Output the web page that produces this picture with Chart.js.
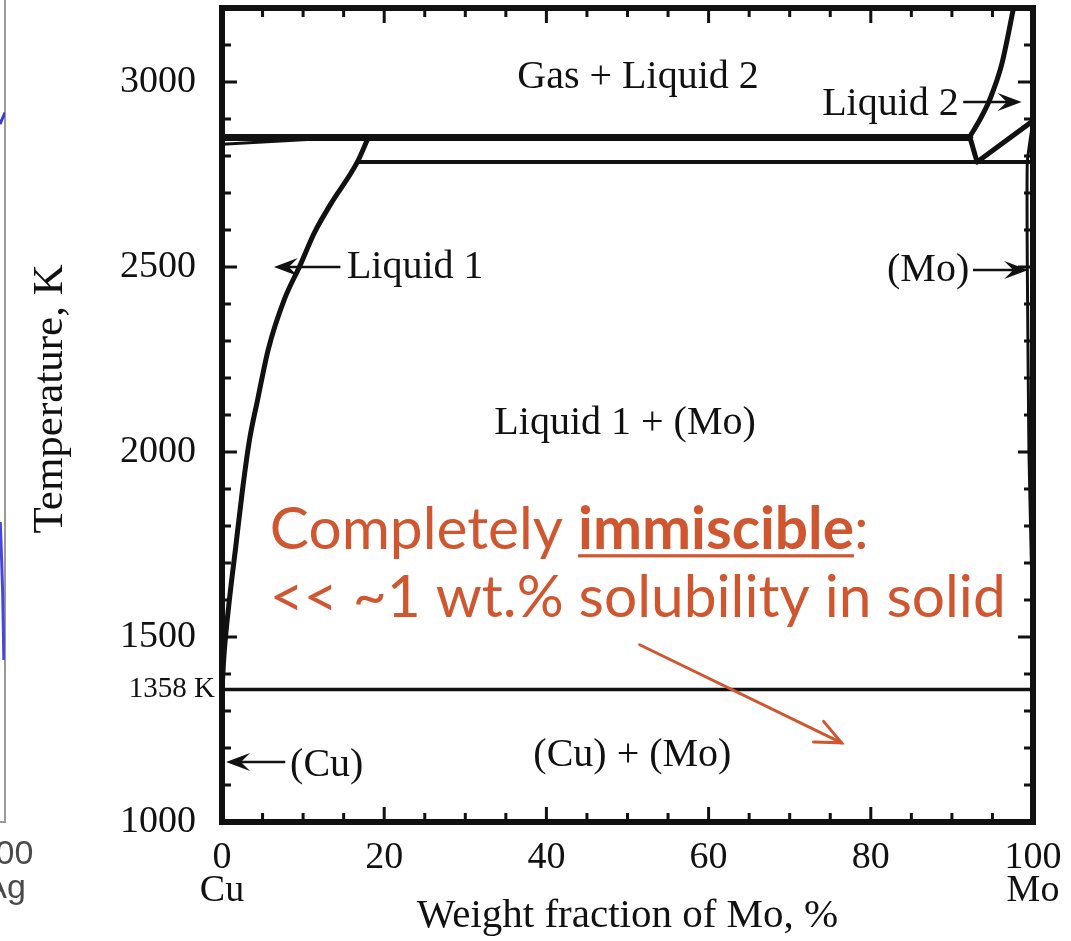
<!DOCTYPE html>
<html><head><meta charset="utf-8">
<script src="https://cdn.jsdelivr.net/npm/chart.js@4.4.0/dist/chart.umd.min.js"></script>
<style>
html,body{margin:0;padding:0;background:#fff;overflow:hidden;}
#wrap{position:relative;width:1071px;height:941px;overflow:hidden;background:#fff;}
#side{position:absolute;left:-290px;top:0;}
#main{position:absolute;left:0;top:0;}
</style></head><body>
<div id="wrap"><canvas id="side" width="340" height="941"></canvas><canvas id="main" width="1071" height="941"></canvas></div>
<script>
// ---------- DATA ----------
const xTickValues = [0, 20, 40, 60, 80, 100];
const xEndNames   = ['Cu', '', '', '', '', 'Mo'];
const yTickValues = [1000, 1358, 1500, 2000, 2500, 3000];
const xMinorMarks = [0,5,10,15,20,25,30,35,40,45,50,55,60,65,70,75,80,85,90,95,100];
const yMinorMarks = [1000,1100,1200,1300,1400,1500,1600,1700,1800,1900,2000,2100,2200,2300,2400,2500,2600,2700,2800,2900,3000,3100,3200];

// Liquid 1 boundary (Cu-rich liquid)
const liquid1X = [0, 0.25, 0.9, 1.7, 2.5, 3.4, 4.4, 5.7, 7.7, 9.6, 11.4, 13.4, 16.7, 18.0];
const liquid1T = [1358, 1452, 1598, 1745, 1893, 2034, 2142, 2277, 2413, 2503, 2593, 2670, 2784, 2848];
// Gas / Liquid 2 boundary
const liquid2X = [97.6, 96.1, 94.7, 93.5, 92.2];
const liquid2T = [3200, 3044, 2954, 2900, 2852];
// Liquid 2 lower edge to monotectic
const liq2LowX = [92.2, 93.1];
const liq2LowT = [2852, 2784];
// Mo liquidus above monotectic
const moLiqX = [93.1, 100];
const moLiqT = [2784, 2895];
// (Mo) solvus
const moSolX = [100, 99.3, 99.3, 99.5, 99.8, 100];
const moSolT = [2895, 2784, 2500, 2000, 1700, 1450];
// Invariant lines
const gasLineX = [0, 92.2];      const gasLineT = [2850, 2850];
const wedgeX   = [0, 15.0];      const wedgeT   = [2832, 2850];
const monoX    = [16.7, 100];    const monoT    = [2784, 2784];
const eutX     = [0, 100];       const eutT     = [1358, 1358];

// Neighbouring (cut-off) chart on the left edge
const sideTopX = [98.3, 100];    const sideTopY = [84.9, 86.3];
const sideLowX = [98.4, 99.2, 99.6]; const sideLowY = [36.5, 28.0, 19.7];

// ---------- annotations (data coordinates) ----------
const SERIF = "'Liberation Serif','Times New Roman',serif";
const SANS  = "Lato,'Open Sans',sans-serif";
const ORANGE = '#D0562F';
const INK = '#111';

const phaseLabels = [
  {text:'Gas + Liquid 2',   x:51.3, t:3012, align:'center'},
  {text:'Liquid 2',         x:74.0, t:2940, align:'left'},
  {text:'Liquid 1',         x:15.4, t:2500, align:'left'},
  {text:'(Mo)',             x:82.0, t:2490, align:'left'},
  {text:'Liquid 1 + (Mo)',  x:49.7, t:2076, align:'center'},
  {text:'(Cu) + (Mo)',      x:50.6, t:1181, align:'center'},
  {text:'(Cu)',             x:8.4,  t:1154, align:'left'}
];
const blackArrows = [
  {x0:91.4, t0:2946, x1:98.6, t1:2946},
  {x0:14.6, t0:2500, x1:6.4,  t1:2500},
  {x0:92.6, t0:2492, x1:99.4, t1:2492},
  {x0:7.8,  t0:1162, x1:0.5,  t1:1162}
];
const note = {
  line1a:'Completely ', line1b:'immiscible', line1c:':',
  line2:'<< ~1 wt.% solubility in solid',
  x:5.9, t1:1738, t2:1553, xRight:96.6,
  arrow:{x0:51.5, t0:1479, x1:76.4, t1:1214}
};

function mkSet(xs, ts, w, tension, mono) {
  const d = { data: xs.map((v,i)=>({x:v, y:ts[i]})), showLine:true, borderColor:INK,
           borderWidth:w, pointRadius:0, tension: tension||0, borderCapStyle:'round', borderJoinStyle:'round', fill:false };
  if (mono) d.cubicInterpolationMode = 'monotone';
  return d;
}

function headBarbed(ctx, x0,y0,x1,y1,len,half){
  const a = Math.atan2(y1-y0, x1-x0);
  ctx.save(); ctx.translate(x1,y1); ctx.rotate(a);
  ctx.beginPath(); ctx.moveTo(0,0); ctx.lineTo(-len,-half); ctx.lineTo(-len*0.62,0); ctx.lineTo(-len,half); ctx.closePath();
  ctx.fill(); ctx.restore();
}
function headOpen(ctx, x0,y0,x1,y1,len,ang){
  const a = Math.atan2(y1-y0, x1-x0);
  ctx.beginPath();
  ctx.moveTo(x1 - len*Math.cos(a-ang), y1 - len*Math.sin(a-ang));
  ctx.lineTo(x1,y1);
  ctx.lineTo(x1 - len*Math.cos(a+ang), y1 - len*Math.sin(a+ang));
  ctx.stroke();
}

const framePlugin = {
  id:'frame',
  afterDatasetsDraw(chart){
    const {ctx, chartArea:ca, scales:{x,y}} = chart;
    ctx.save();
    ctx.strokeStyle = INK; ctx.lineWidth = 3; ctx.lineCap='butt';
    xMinorMarks.forEach(v=>{
      const p = x.getPixelForValue(v); const L = xTickValues.includes(v) ? 15 : 9;
      ctx.beginPath(); ctx.moveTo(p, ca.bottom); ctx.lineTo(p, ca.bottom-L);
      ctx.moveTo(p, ca.top); ctx.lineTo(p, ca.top+L); ctx.stroke();
    });
    yMinorMarks.forEach(v=>{
      const p = y.getPixelForValue(v); const L = (v % 500 === 0) ? 15 : 9;
      ctx.beginPath(); ctx.moveTo(ca.left, p); ctx.lineTo(ca.left+L, p);
      ctx.moveTo(ca.right, p); ctx.lineTo(ca.right-L, p); ctx.stroke();
    });
    ctx.lineWidth = 6; ctx.lineJoin='miter';
    ctx.strokeRect(ca.left, ca.top, ca.right-ca.left, ca.bottom-ca.top);
    ctx.restore();
  }
};

const annPlugin = {
  id:'ann',
  afterDraw(chart){
    const {ctx, scales:{x,y}} = chart;
    const px = v=>x.getPixelForValue(v), py = v=>y.getPixelForValue(v);
    ctx.save();
    ctx.fillStyle = INK; ctx.textBaseline = 'middle'; ctx.font = '40px ' + SERIF;
    phaseLabels.forEach(l=>{ ctx.textAlign = l.align; ctx.fillText(l.text, px(l.x), py(l.t)); });
    ctx.strokeStyle = INK; ctx.lineWidth = 2.5;
    blackArrows.forEach(a=>{
      const X0=px(a.x0),Y0=py(a.t0),X1=px(a.x1),Y1=py(a.t1);
      ctx.beginPath(); ctx.moveTo(X0,Y0); ctx.lineTo(X1 + (X0>X1?14:-14), Y1); ctx.stroke();
      headBarbed(ctx,X0,Y0,X1,Y1,24,9);
    });
    // orange note
    const targetW = px(note.xRight) - px(note.x);
    ctx.font = '100px ' + SANS;
    const size = 100 * targetW / ctx.measureText(note.line2).width;
    ctx.fillStyle = ORANGE; ctx.textAlign='left'; ctx.textBaseline='alphabetic';
    let cx = px(note.x);
    const b1 = py(note.t1), b2 = py(note.t2);
    ctx.font = size.toFixed(1)+'px ' + SANS;
    ctx.fillText(note.line1a, cx, b1); cx += ctx.measureText(note.line1a).width;
    ctx.font = 'bold ' + size.toFixed(1)+'px ' + SANS;
    ctx.fillText(note.line1b, cx, b1);
    const wb = ctx.measureText(note.line1b).width;
    ctx.fillRect(cx, b1 + size*0.09, wb, Math.max(2.5, size*0.055));
    cx += wb;
    ctx.font = size.toFixed(1)+'px ' + SANS;
    ctx.fillText(note.line1c, cx, b1);
    ctx.fillText(note.line2, px(note.x), b2);
    // orange arrow
    ctx.strokeStyle = ORANGE; ctx.lineWidth = 3; ctx.lineCap='round';
    const A = note.arrow;
    const X0=px(A.x0),Y0=py(A.t0),X1=px(A.x1),Y1=py(A.t1);
    ctx.beginPath(); ctx.moveTo(X0,Y0); ctx.lineTo(X1,Y1); ctx.stroke();
    headOpen(ctx,X0,Y0,X1,Y1,28,0.42);
    ctx.restore();
  }
};

function noPadV(s){ s.paddingTop = 0; s.paddingBottom = 0; }
function noPadH(s){ s.paddingLeft = 0; s.paddingRight = 0; }

new Chart(document.getElementById('main'), {
  type:'scatter',
  data:{ datasets:[
    mkSet(gasLineX, gasLineT, 7),
    mkSet(wedgeX, wedgeT, 3),
    mkSet(monoX, monoT, 4),
    mkSet(eutX, eutT, 3.5),
    mkSet(liquid1X, liquid1T, 5, 0.4, true),
    mkSet(liquid2X, liquid2T, 5, 0.3),
    mkSet(liq2LowX, liq2LowT, 5),
    mkSet(moLiqX, moLiqT, 5),
    mkSet(moSolX, moSolT, 3, 0.15)
  ]},
  options:{
    responsive:false, animation:false, devicePixelRatio:1,
    layout:{padding:{left:0, right:38, top:8, bottom:0}},
    plugins:{legend:{display:false}, tooltip:{enabled:false}},
    scales:{
      x:{ type:'linear', min:0, max:100, position:'bottom',
        afterBuildTicks:s=>{ s.ticks = xTickValues.map(v=>({value:v})); },
        afterFit:s=>{ s.height = 119; noPadH(s); },
        grid:{display:false, drawTicks:false}, border:{display:false},
        ticks:{ padding:19, color:INK, autoSkip:false, maxRotation:0,
          font:{family:SERIF, size:38, lineHeight:0.87},
          callback:(v)=>{ const i = xTickValues.indexOf(v); return (i>=0 && xEndNames[i]) ? [String(v), xEndNames[i]] : String(v); } },
        title:{display:true, text:'Weight fraction of Mo, %', color:INK, font:{family:SERIF, size:41}, padding:{top:0,bottom:0}}
      },
      y:{ type:'linear', min:1000, max:3200, position:'left',
        afterBuildTicks:s=>{ s.ticks = yTickValues.map(v=>({value:v})); },
        afterFit:s=>{ s.width = 222; noPadV(s); },
        grid:{display:false, drawTicks:false}, border:{display:false},
        ticks:{ padding:7, color:INK, autoSkip:false,
          font:(c)=>({family:SERIF, size:(c.tick && c.tick.value===1358) ? 29 : 38}),
          callback:(v)=> v===1358 ? '1358 K' : String(v) + '\u2002' },
        title:{display:true, text:'\u2002 Temperature, K', color:INK, font:{family:SERIF, size:43}, padding:{top:25,bottom:0}}
      }
    }
  },
  plugins:[framePlugin, annPlugin]
});

// neighbouring chart, mostly outside the picture
new Chart(document.getElementById('side'), {
  type:'scatter',
  data:{ datasets:[
    {data:sideTopX.map((v,i)=>({x:v,y:sideTopY[i]})), showLine:true, borderColor:'#3a3ad8', borderWidth:3, pointRadius:0},
    {data:sideLowX.map((v,i)=>({x:v,y:sideLowY[i]})), showLine:true, borderColor:'#4646e0', borderWidth:3, pointRadius:0, tension:0.3}
  ]},
  options:{
    responsive:false, animation:false, devicePixelRatio:1,
    layout:{padding:{left:0,right:45,top:0,bottom:0}},
    plugins:{legend:{display:false}, tooltip:{enabled:false}},
    scales:{
      x:{type:'linear', min:0, max:100,
        afterBuildTicks:s=>{ s.ticks=[{value:100}]; },
        afterFit:s=>{ s.height = 119; noPadH(s); },
        grid:{display:false, drawTicks:false}, border:{color:'#9a9a9a', width:2},
        ticks:{padding:16, color:'#4a4a4a', font:{family:"'Liberation Sans',Arial,sans-serif", size:34, lineHeight:1.0},
          callback:()=>['100','Ag']}},
      y:{type:'linear', min:0, max:100, position:'right',
        afterFit:s=>{ s.width = 0; noPadV(s); },
        grid:{display:false, drawTicks:false}, border:{color:'#9a9a9a', width:2},
        ticks:{display:false}}
    }
  }
});
</script>
</body></html>
